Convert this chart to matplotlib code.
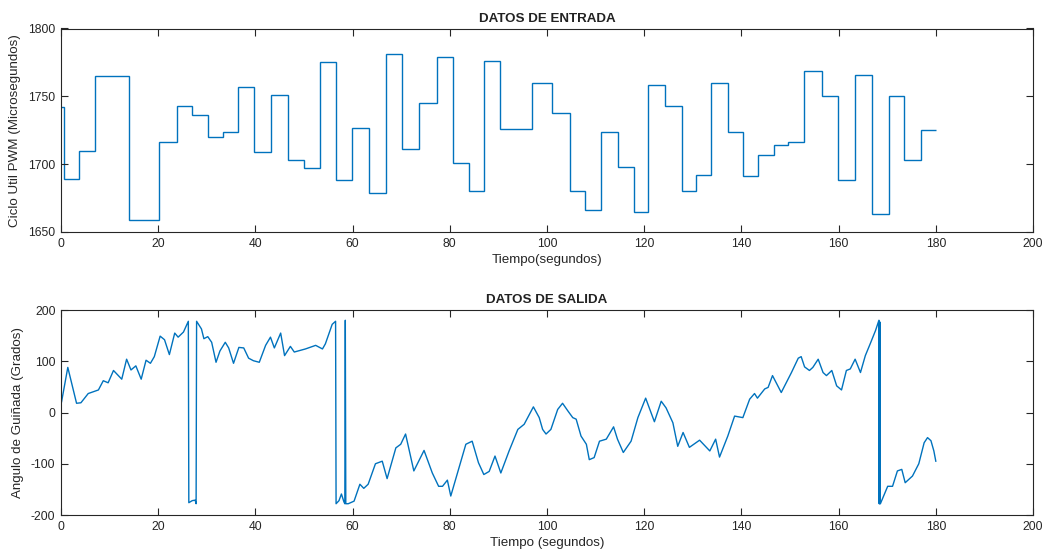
import matplotlib
matplotlib.use("Agg")
import matplotlib.pyplot as plt

plt.rcParams['font.family'] = ['Liberation Sans', 'DejaVu Sans']
plt.rcParams['axes.unicode_minus'] = False

# ---- Input data (PWM duty cycle steps) ----
step_edges = [0, 0.7, 3.7, 7.0, 14.0, 20.1, 23.8, 26.9, 30.2, 33.3, 36.5, 39.8, 43.2,
              46.7, 50.0, 53.2, 56.6, 59.8, 63.3, 66.9, 70.2, 73.7, 77.3, 80.6, 83.9,
              87.1, 90.4, 97.0, 101.1, 104.7, 107.8, 111.1, 114.6, 117.9, 120.8, 124.3,
              127.7, 130.7, 133.7, 137.2, 140.3, 143.4, 146.7, 149.6, 152.9, 156.5,
              159.9, 163.4, 166.9, 170.4, 173.4, 177.0, 180.0]
step_levels = [1742, 1689, 1710, 1765, 1659, 1716, 1743, 1736, 1720, 1724, 1757, 1709,
               1751, 1703, 1697, 1775, 1688, 1727, 1679, 1781, 1711, 1745, 1779, 1701,
               1680, 1776, 1726, 1760, 1738, 1680, 1666, 1724, 1698, 1665, 1758, 1743,
               1680, 1692, 1760, 1724, 1691, 1707, 1714, 1716, 1769, 1750, 1688, 1766,
               1663, 1750, 1703, 1725]

# ---- Output data (yaw angle) ----
yaw_t = [0, 0.1, 1.4, 3.2, 4.1, 5.6, 7.7, 8.7, 9.7, 10.8, 12.5, 13.5, 14.4, 15.4, 16.5,
         17.5, 18.4, 19.2, 20.4, 21.3, 22.3, 23.4, 24.1, 25.2, 26.2, 26.3, 27.0, 27.6,
         27.8, 27.9, 28.9, 29.4, 30.2, 31.0, 31.9, 32.7, 33.8, 34.5, 35.5, 36.6, 37.6,
         38.6, 39.6, 40.8, 42.1, 43.1, 43.9, 45.2, 46.0, 47.2, 48.0, 50.3, 52.4, 53.8,
         54.4, 55.1, 55.8, 56.5, 56.6, 57.2, 57.7, 58.2, 58.4, 58.5, 58.6, 59.1, 60.3,
         61.5, 62.3, 63.2, 64.7, 66.1, 67.1, 68.9, 69.9, 70.9, 72.6, 74.7, 76.4, 77.7,
         78.5, 79.5, 80.2, 81.9, 83.3, 84.6, 85.9, 87.0, 88.1, 89.3, 90.5, 92.2, 94.0,
         95.3, 97.2, 98.4, 99.1, 99.8, 100.8, 102.2, 103.2, 104.3, 105.3, 106.0, 107.0,
         108.1, 108.7, 109.7, 110.8, 112.2, 113.7, 114.5, 115.7, 117.3, 118.7, 120.3,
         122.1, 123.5, 124.5, 125.9, 126.9, 128.0, 129.3, 131.4, 133.5, 134.7, 135.5,
         137.2, 138.6, 140.3, 141.7, 142.7, 143.3, 144.8, 145.5, 146.4, 148.2, 150.3,
         151.7, 152.3, 153.0, 154.0, 154.7, 155.8, 156.8, 157.5, 158.6, 159.6, 160.6,
         161.6, 162.4, 163.4, 164.5, 165.5, 166.5, 167.6, 168.3, 168.35, 168.4, 168.45,
         168.5, 168.55, 168.6, 169.4, 170.1, 171.1, 172.1, 173.0, 173.7, 175.2, 176.5,
         177.6, 178.3, 179.0, 179.6, 180.0]
yaw_v = [40, 20, 88, 18, 19, 37, 44, 62, 58, 82, 65, 104, 83, 91, 65,
         102, 96, 109, 149, 142, 113, 155, 147, 157, 178, -176, -172, -171,
         -178, 178, 163, 144, 148, 137, 98, 120, 137, 126, 96, 127, 126,
         106, 101, 98, 131, 147, 126, 155, 111, 129, 118, 124, 131, 124,
         134, 153, 172, 178, -178, -172, -159, -174, -178, 180, -178, -178, -173,
         -140, -148, -140, -100, -95, -129, -69, -62, -42, -114, -74, -118, -144,
         -144, -132, -163, -108, -62, -56, -98, -121, -115, -85, -118, -75, -33,
         -23, 11, -10, -33, -42, -33, 6, 18, 3, -10, -13, -46,
         -62, -92, -88, -56, -52, -28, -52, -78, -56, -10, 28,
         -18, 22, 9, -20, -66, -39, -68, -54, -75, -52, -87,
         -46, -7, -10, 26, 37, 28, 46, 49, 72, 39, 78,
         106, 109, 89, 82, 88, 104, 78, 72, 82, 52, 44,
         82, 85, 104, 78, 111, 134, 160, 180, -178, 178, -178,
         176, -178, -178, -160, -144, -144, -114, -111, -137, -124, -100,
         -59, -49, -55, -75, -95]

color = '#0072BD'
fig = plt.figure(figsize=(10.53, 5.56), dpi=100)
W, H = 1053, 556
ax1 = fig.add_axes([61 / W, 1 - 232 / H, 972 / W, 203.5 / H])
ax2 = fig.add_axes([61 / W, 1 - 515 / H, 972 / W, 205 / H])

ax1.stairs(step_levels, step_edges, baseline=None, color=color, lw=1.0)
ax2.plot(yaw_t, yaw_v, color=color, lw=1.0)

ax1.set_xlim(0, 200)
ax1.set_ylim(1650, 1800)
ax1.set_yticks([1650, 1700, 1750, 1800])
ax2.set_xlim(0, 200)
ax2.set_ylim(-200, 200)
ax2.set_yticks([-200, -100, 0, 100, 200])

for ax in (ax1, ax2):
    ax.set_xticks(range(0, 201, 20))
    ax.tick_params(direction='in', top=True, right=True, labelsize=8.7,
                   length=5, width=0.8, colors='#262626', pad=4)
    for s in ax.spines.values():
        s.set_linewidth(0.8)
        s.set_color('#262626')

lab = dict(fontsize=9.6, color='#262626')
ax1.set_title('DATOS DE ENTRADA', fontsize=9.6, fontweight='bold', color='#222222', pad=5)
ax1.set_xlabel('Tiempo(segundos)', labelpad=3, **lab)
ax1.set_ylabel('Ciclo Util PWM (Microsegundos)', labelpad=5, **lab)
ax2.set_title('DATOS DE SALIDA', fontsize=9.6, fontweight='bold', color='#222222', pad=5)
ax2.set_xlabel('Tiempo (segundos)', labelpad=3, **lab)
ax2.set_ylabel('Angulo de Guiñada (Grados)', labelpad=5, **lab)

fig.savefig('out.png', dpi=100)
